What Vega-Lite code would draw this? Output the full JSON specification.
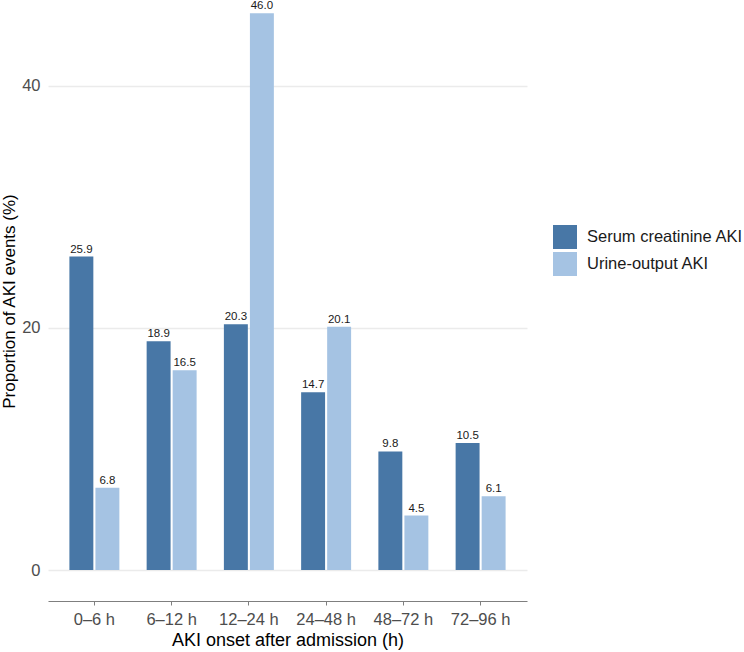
{
  "$schema": "https://vega.github.io/schema/vega-lite/v6.json",
  "autosize": "none",
  "width": 479,
  "height": 600,
  "padding": {"left": 48, "top": 1, "right": 217, "bottom": 51},
  "background": "white",
  "config": {
    "view": {"stroke": null},
    "font": "Liberation Sans"
  },
  "data": {
    "values": [
      {"onset": "0–6 h", "type": "Serum creatinine AKI", "pct": 25.9},
      {"onset": "0–6 h", "type": "Urine-output AKI", "pct": 6.8},
      {"onset": "6–12 h", "type": "Serum creatinine AKI", "pct": 18.9},
      {"onset": "6–12 h", "type": "Urine-output AKI", "pct": 16.5},
      {"onset": "12–24 h", "type": "Serum creatinine AKI", "pct": 20.3},
      {"onset": "12–24 h", "type": "Urine-output AKI", "pct": 46.0},
      {"onset": "24–48 h", "type": "Serum creatinine AKI", "pct": 14.7},
      {"onset": "24–48 h", "type": "Urine-output AKI", "pct": 20.1},
      {"onset": "48–72 h", "type": "Serum creatinine AKI", "pct": 9.8},
      {"onset": "48–72 h", "type": "Urine-output AKI", "pct": 4.5},
      {"onset": "72–96 h", "type": "Serum creatinine AKI", "pct": 10.5},
      {"onset": "72–96 h", "type": "Urine-output AKI", "pct": 6.1}
    ]
  },
  "encoding": {
    "x": {
      "field": "onset",
      "type": "nominal",
      "sort": ["0–6 h", "6–12 h", "12–24 h", "24–48 h", "48–72 h", "72–96 h"],
      "scale": {"paddingInner": 0.353, "paddingOuter": 0.277},
      "axis": {
        "title": "AKI onset after admission (h)",
        "titleFontSize": 18,
        "titleFontWeight": "normal",
        "titleColor": "#000000",
        "titlePadding": 4,
        "labelFontSize": 16.5,
        "labelColor": "#4d4d4d",
        "labelAngle": 0,
        "labelPadding": 6,
        "tickSize": 4,
        "tickColor": "#7f7f7f",
        "domainColor": "#7f7f7f",
        "domainWidth": 1.2,
        "grid": false
      }
    },
    "xOffset": {
      "field": "type",
      "type": "nominal",
      "scale": {"paddingInner": 0.08}
    },
    "y": {
      "field": "pct",
      "type": "quantitative",
      "scale": {"domain": [-2.56, 47.02], "nice": false, "zero": false},
      "axis": {
        "title": "Proportion of AKI events (%)",
        "titleFontSize": 17,
        "titleFontWeight": "normal",
        "titleColor": "#000000",
        "titlePadding": 3,
        "values": [0, 20, 40],
        "labelFontSize": 16.5,
        "labelColor": "#4d4d4d",
        "labelPadding": 8,
        "tickSize": 0,
        "domain": false,
        "grid": true,
        "gridColor": "#ebebeb",
        "gridWidth": 1.4
      }
    }
  },
  "layer": [
    {
      "mark": {"type": "bar"},
      "encoding": {
        "color": {
          "field": "type",
          "type": "nominal",
          "scale": {
            "domain": ["Serum creatinine AKI", "Urine-output AKI"],
            "range": ["#4877a6", "#a5c3e3"]
          },
          "legend": {
            "title": null,
            "orient": "none",
            "legendX": 505,
            "legendY": 224,
            "symbolType": "square",
            "symbolSize": 576,
            "symbolStrokeWidth": 0,
            "symbolOpacity": 1,
            "labelFontSize": 16.5,
            "labelColor": "#1a1a1a",
            "labelOffset": 10,
            "rowPadding": 3,
            "padding": 0
          }
        }
      }
    },
    {
      "mark": {"type": "text", "baseline": "bottom", "dy": -2, "fontSize": 11.5, "color": "#1a1a1a"},
      "encoding": {
        "text": {"field": "pct", "type": "quantitative", "format": ".1f"}
      }
    }
  ]
}
